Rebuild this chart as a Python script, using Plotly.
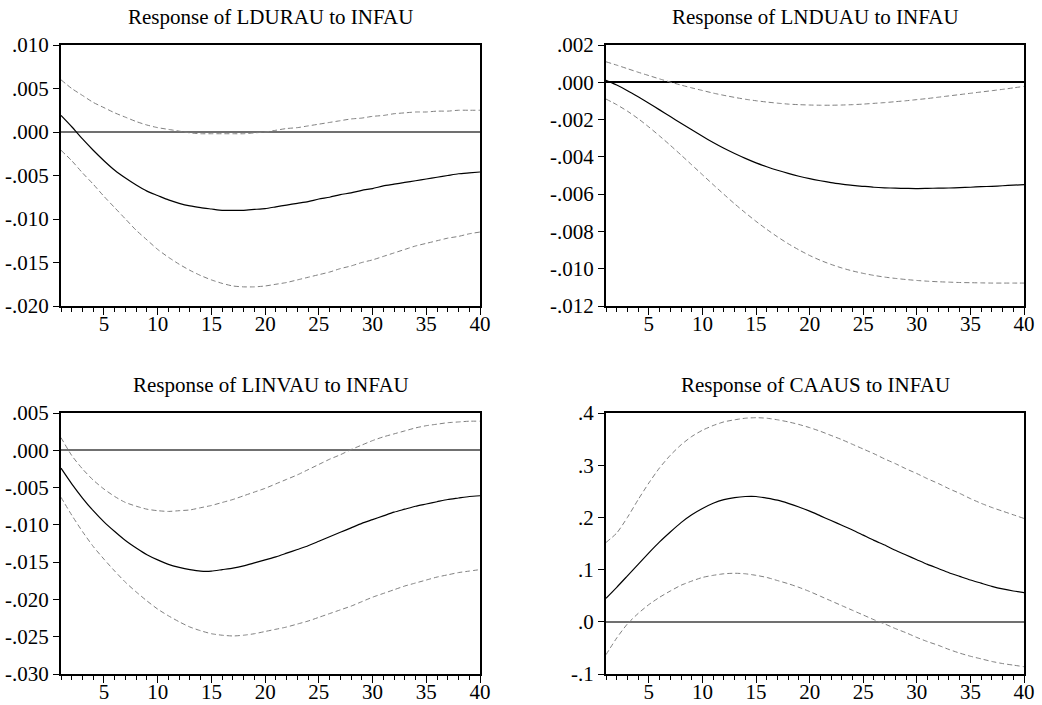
import plotly.graph_objects as go

periods = list(range(1, 41))

titles = ["Response of LDURAU to INFAU", "Response of LNDUAU to INFAU",
          "Response of LINVAU to INFAU", "Response of CAAUS to INFAU"]

ldurau_mid = [0.0019, 0.0006, -0.0008, -0.0021, -0.0033, -0.0044, -0.0053, -0.0061, -0.0068, -0.0073,
              -0.0078, -0.0082, -0.0085, -0.0087, -0.00885, -0.0090, -0.0090, -0.0090, -0.0089, -0.0088,
              -0.0086, -0.0084, -0.0082, -0.0080, -0.0077, -0.0075, -0.0072, -0.0070, -0.0067, -0.0065,
              -0.0062, -0.0060, -0.0058, -0.0056, -0.0054, -0.0052, -0.0050, -0.0048, -0.0047, -0.0046]
ldurau_up = [0.0060, 0.0050, 0.0042, 0.0034, 0.0028, 0.0022, 0.0017, 0.0012, 0.0008, 0.0005,
             0.0003, 0.0001, -0.0001, -0.0002, -0.0002, -0.0002, -0.0002, -0.0002, -0.0001, 0.0000,
             0.0002, 0.0004, 0.0005, 0.0007, 0.0009, 0.0011, 0.0013, 0.0015, 0.0016, 0.0018,
             0.0019, 0.0021, 0.0022, 0.0023, 0.0023, 0.0024, 0.0024, 0.0025, 0.0025, 0.0025]
ldurau_lo = [-0.0021, -0.0033, -0.0047, -0.0060, -0.0074, -0.0087, -0.0100, -0.0113, -0.0124, -0.0135,
             -0.0144, -0.0152, -0.0159, -0.0165, -0.0170, -0.0174, -0.0177, -0.0178, -0.0178, -0.0177,
             -0.0175, -0.0173, -0.0170, -0.0167, -0.0164, -0.0161, -0.0157, -0.0154, -0.0150, -0.0147,
             -0.0143, -0.0139, -0.0135, -0.0131, -0.0128, -0.0125, -0.0122, -0.0120, -0.0117, -0.0115]

lnduau_mid = [0.00010, -0.00015, -0.00045, -0.00078, -0.00112, -0.00148, -0.00184, -0.00220, -0.00255, -0.00290,
              -0.00323, -0.00354, -0.00382, -0.00408, -0.00432, -0.00453, -0.00472, -0.00489, -0.00504, -0.00517,
              -0.00528, -0.00538, -0.00546, -0.00553, -0.00558, -0.00563, -0.00566, -0.00568, -0.00569, -0.00570,
              -0.00569, -0.00568, -0.00567, -0.00565, -0.00563, -0.00560, -0.00558, -0.00555, -0.00552, -0.00549]
lnduau_up = [0.00110, 0.00092, 0.00073, 0.00054, 0.00036, 0.00018, 0.00001, -0.00015, -0.00030, -0.00044,
             -0.00058, -0.00070, -0.00081, -0.00091, -0.00099, -0.00106, -0.00112, -0.00117, -0.00120, -0.00122,
             -0.00123, -0.00123, -0.00122, -0.00120, -0.00117, -0.00113, -0.00109, -0.00104, -0.00099, -0.00093,
             -0.00087, -0.00080, -0.00073, -0.00066, -0.00059, -0.00052, -0.00045, -0.00038, -0.00030, -0.00022]
lnduau_lo = [-0.00090, -0.00120, -0.00155, -0.00195, -0.00240, -0.00288, -0.00338, -0.00390, -0.00443, -0.00496,
             -0.00549, -0.00601, -0.00652, -0.00700, -0.00746, -0.00789, -0.00829, -0.00866, -0.00899, -0.00929,
             -0.00955, -0.00977, -0.00996, -0.01012, -0.01025, -0.01036, -0.01045, -0.01052, -0.01058, -0.01063,
             -0.01067, -0.01070, -0.01072, -0.01074, -0.01075, -0.01076, -0.01077, -0.01077, -0.01077, -0.01077]

linvau_mid = [-0.0024, -0.0045, -0.0064, -0.0081, -0.0096, -0.0109, -0.0121, -0.0131, -0.0140, -0.0147,
              -0.0153, -0.0157, -0.0160, -0.0162, -0.0162, -0.0160, -0.0158, -0.0155, -0.0151, -0.0147,
              -0.0143, -0.0138, -0.0133, -0.0128, -0.0122, -0.0116, -0.0110, -0.0104, -0.0098, -0.0093,
              -0.0088, -0.0083, -0.0079, -0.0075, -0.0072, -0.0069, -0.0066, -0.0064, -0.0062, -0.0061]
linvau_up = [0.0017, -0.0007, -0.0025, -0.0040, -0.0052, -0.0062, -0.0070, -0.0075, -0.0079, -0.0081,
             -0.0082, -0.0081, -0.0080, -0.0077, -0.0074, -0.0070, -0.0066, -0.0061, -0.0056, -0.0051,
             -0.0045, -0.0039, -0.0033, -0.0026, -0.0019, -0.0012, -0.0006, 0.0001, 0.0007, 0.0013,
             0.0018, 0.0022, 0.0026, 0.0030, 0.0033, 0.0035, 0.0037, 0.0038, 0.0039, 0.0039]
linvau_lo = [-0.0063, -0.0087, -0.0109, -0.0129, -0.0146, -0.0162, -0.0177, -0.0190, -0.0202, -0.0213,
             -0.0222, -0.0230, -0.0237, -0.0242, -0.0246, -0.0248, -0.0249, -0.0248, -0.0246, -0.0243,
             -0.0240, -0.0237, -0.0233, -0.0229, -0.0224, -0.0219, -0.0214, -0.0209, -0.0203, -0.0197,
             -0.0192, -0.0187, -0.0182, -0.0178, -0.0174, -0.0170, -0.0167, -0.0164, -0.0162, -0.0160]

caaus_mid = [0.045, 0.066, 0.088, 0.110, 0.132, 0.153, 0.172, 0.190, 0.205, 0.217,
             0.227, 0.234, 0.238, 0.240, 0.240, 0.237, 0.233, 0.227, 0.220, 0.212,
             0.203, 0.194, 0.185, 0.176, 0.166, 0.156, 0.147, 0.137, 0.128, 0.119,
             0.110, 0.102, 0.094, 0.087, 0.080, 0.074, 0.068, 0.063, 0.059, 0.056]
caaus_up = [0.152, 0.170, 0.200, 0.234, 0.266, 0.295, 0.319, 0.339, 0.355, 0.367,
            0.376, 0.383, 0.387, 0.390, 0.391, 0.390, 0.387, 0.383, 0.378, 0.372,
            0.365, 0.357, 0.349, 0.340, 0.331, 0.322, 0.312, 0.303, 0.293, 0.284,
            0.274, 0.265, 0.255, 0.246, 0.236, 0.227, 0.219, 0.212, 0.205, 0.198]
caaus_lo = [-0.063, -0.031, -0.004, 0.016, 0.033, 0.047, 0.059, 0.070, 0.078, 0.085,
            0.089, 0.092, 0.093, 0.092, 0.089, 0.085, 0.079, 0.073, 0.066, 0.058,
            0.049, 0.040, 0.031, 0.022, 0.013, 0.004, -0.004, -0.013, -0.021, -0.030,
            -0.038, -0.045, -0.053, -0.060, -0.066, -0.071, -0.076, -0.080, -0.083, -0.086]

x_tickvals = [5, 10, 15, 20, 25, 30, 35, 40]
x_ticktext = ["5", "10", "15", "20", "25", "30", "35", "40"]

y_ticks = [
    ([0.010, 0.005, 0.0, -0.005, -0.010, -0.015, -0.020], [".010", ".005", ".000", "-.005", "-.010", "-.015", "-.020"]),
    ([0.002, 0.0, -0.002, -0.004, -0.006, -0.008, -0.010, -0.012], [".002", ".000", "-.002", "-.004", "-.006", "-.008", "-.010", "-.012"]),
    ([0.005, 0.0, -0.005, -0.010, -0.015, -0.020, -0.025, -0.030], [".005", ".000", "-.005", "-.010", "-.015", "-.020", "-.025", "-.030"]),
    ([0.4, 0.3, 0.2, 0.1, 0.0, -0.1], [".4", ".3", ".2", ".1", ".0", "-.1"]),
]
y_ranges = [(-0.020, 0.010), (-0.012, 0.002), (-0.030, 0.005), (-0.1, 0.4)]

series = [
    (ldurau_mid, ldurau_up, ldurau_lo),
    (lnduau_mid, lnduau_up, lnduau_lo),
    (linvau_mid, linvau_up, linvau_lo),
    (caaus_mid, caaus_up, caaus_lo),
]

W, H = 1042, 705
x_doms = [(61 / W, 480 / W), (606 / W, 1024 / W)]
y_doms = [(1 - 306 / H, 1 - 45 / H), (1 - 674 / H, 1 - 413 / H)]
title_y = [1 - 17 / H, 1 - 385 / H]

FONT = "Liberation Serif, Times New Roman, serif"
zero_colors = ["#707070", "#000000", "#707070", "#707070"]

fig = go.Figure()
annotations = []
for i in range(4):
    r, c = divmod(i, 2)
    ax = "" if i == 0 else str(i + 1)
    mid, up, lo = series[i]
    for vals, dash, col, wid in [(up, "5px,3px", "#808080", 1), (lo, "5px,3px", "#808080", 1), (mid, "solid", "#000000", 1.2)]:
        fig.add_trace(go.Scatter(x=periods, y=vals, mode="lines", xaxis="x" + ax, yaxis="y" + ax,
                                 line=dict(color=col, width=wid, dash=dash, shape="spline", smoothing=0.6),
                                 showlegend=False, hoverinfo="skip"))
    xa = dict(domain=list(x_doms[c]), anchor="y" + ax, range=[1, 40], automargin=False,
              tickvals=x_tickvals, ticktext=x_ticktext, ticks="outside", ticklen=7, tickwidth=1,
              tickcolor="#000", showline=True, linecolor="#000", linewidth=2, mirror=True,
              showgrid=False, zeroline=False, tickfont=dict(family=FONT, size=21, color="#000"),
              ticklabelstandoff=-9,
              minor=dict(dtick=1, tick0=0, ticks="outside", ticklen=4, tickwidth=1, tickcolor="#000", showgrid=False))
    tv, tt = y_ticks[i]
    ya = dict(domain=list(y_doms[r]), anchor="x" + ax, range=list(y_ranges[i]), automargin=False,
              tickvals=tv, ticktext=tt, ticks="outside", ticklen=6, tickwidth=1, tickcolor="#000",
              showline=True, linecolor="#000", linewidth=2, mirror=True, showgrid=False,
              zeroline=True, zerolinecolor=zero_colors[i], zerolinewidth=1.5,
              tickfont=dict(family=FONT, size=21, color="#000"))
    fig.layout["xaxis" + ax] = xa
    fig.layout["yaxis" + ax] = ya
    annotations.append(dict(text=titles[i], xref="paper", yref="paper",
                            x=(x_doms[c][0] + x_doms[c][1]) / 2, y=title_y[r],
                            xanchor="center", yanchor="middle", showarrow=False,
                            font=dict(family=FONT, size=21, color="#000")))

fig.update_layout(width=W, height=H, margin=dict(l=0, r=0, t=0, b=0),
                  paper_bgcolor="white", plot_bgcolor="white", annotations=annotations)
fig.write_html("out.html", config={"displayModeBar": False},
               post_script="document.body.style.margin='0';document.body.style.overflow='hidden';"
                           "document.documentElement.style.overflow='hidden';")
